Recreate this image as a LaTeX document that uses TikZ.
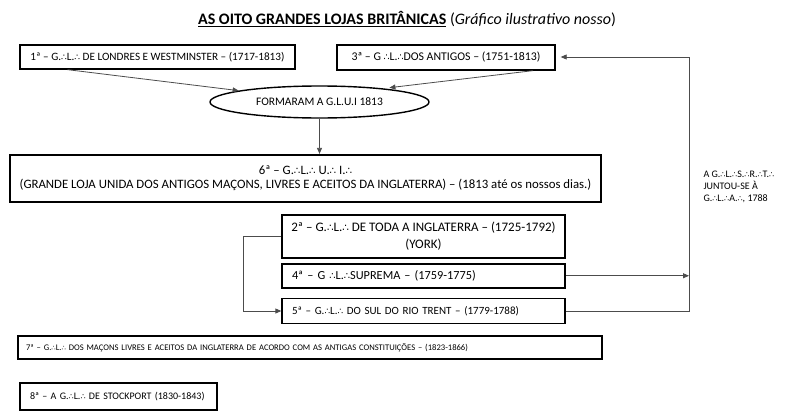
\documentclass[tikz,border=0pt]{standalone}
\usepackage{fontspec}
\setmainfont{Carlito}
\newfontfamily\symfont[Scale=0.8]{DejaVu Sans}
\usepackage{tikz}
\usetikzlibrary{shapes.geometric, arrows.meta, positioning, calc}

\newcommand{\thf}{{\symfont ∴}}

\begin{document}
\begin{tikzpicture}[
  x=1pt, y=-1pt,
  lodge/.style={
    rectangle, draw=black, line width=1.3pt,
    inner sep=0pt, align=center,
    font=\fontsize{11.8}{16}\selectfont
  },
  lodgel/.style={
    lodge, align=left, inner xsep=10pt
  },
  heavy/.style={line width=2.2pt},
  merge/.style={
    ellipse, draw=black, line width=1.4pt,
    minimum width=219pt, minimum height=32pt,
    inner sep=0pt, font=\fontsize{11.5}{13}\selectfont
  },
  arr/.style={-{Triangle[length=6pt,width=5pt]}, line width=0.8pt, black!70},
  note/.style={align=left, anchor=west, font=\fontsize{10}{12}\selectfont}
]
\useasboundingbox (0,0) rectangle (800,420);

%% Title
\node (title) at (407,19) {\fontsize{16}{18}\selectfont
  \underline{\textbf{AS OITO GRANDES LOJAS BRITÂNICAS}} (\textit{Gráfico ilustrativo nosso})};

%% Top row
\node[lodge, minimum width=275pt, minimum height=24pt,
  font=\fontsize{11.2}{13}\selectfont] (b1) at (157.5,57)
  {1ª – G.\thf L.\thf\ DE LONDRES E WESTMINSTER – (1717-1813)};
\node[lodge, minimum width=218pt, minimum height=25pt] (b3) at (446,57.5)
  {3ª – G \thf L.\thf DOS ANTIGOS – (1751-1813)};

%% Union
\node[merge] (ell) at (319.5,102) {FORMARAM A G.L.U.I 1813};
\node[lodge, heavy, minimum width=591pt, minimum height=47pt,
  font=\fontsize{12.8}{14}\selectfont] (b6) at (305.5,178.5)
  {6ª – G.\thf L.\thf\ U.\thf\ I.\thf\\
  (GRANDE LOJA UNIDA DOS ANTIGOS MAÇONS, LIVRES E ACEITOS DA INGLATERRA) – (1813 até os nossos dias.)};

%% Middle stack
\node[lodge, minimum width=283pt, minimum height=43pt,
  font=\fontsize{13}{17}\selectfont] (b2) at (423.5,236.5)
  {2ª – G.\thf L.\thf\ DE TODA A INGLATERRA – (1725-1792)\\(YORK)};
\node[lodgel, heavy, text width=263pt, minimum height=24pt, below=4pt of b2,
  font=\fontsize{12.3}{14}\selectfont] (b4)
  {4ª – G \thf L.\thf SUPREMA – (1759-1775)};
\node[lodgel, text width=263pt, minimum height=25pt, below=9pt of b4,
  font=\fontsize{11}{13}\selectfont] (b5)
  {5ª – G.\thf L.\thf\ DO SUL DO RIO TRENT – (1779-1788)};

%% Bottom rows
\node[lodgel, heavy, inner xsep=8pt, text width=568pt, minimum height=23pt,
  font=\fontsize{8.6}{10}\selectfont] (b7) at (310,347.5)
  {7ª – G.\thf L.\thf\ DOS MAÇONS LIVRES E ACEITOS DA INGLATERRA DE ACORDO COM AS ANTIGAS CONSTITUIÇÕES – (1823-1866)};
\node[lodgel, heavy, text width=177pt, minimum height=27pt,
  font=\fontsize{10}{11}\selectfont] (b8) at (118.5,396.5)
  {8ª – A G.\thf L.\thf\ DE STOCKPORT (1830-1843)};

%% Side note
\node[note] (srt) at (700,187)
  {A G.\thf L.\thf S.\thf R.\thf T.\thf\\JUNTOU-SE À\\G.\thf L.\thf A.\thf, 1788};

\coordinate (rtop) at (689,57);

%% Connectors
\draw[arr] ([xshift=-90pt]b1.south) -- (ell.172);
\draw[arr, shorten >=6pt] ([xshift=87pt]b3.south) -- (ell.12);
\draw[arr] (ell.south) -- (ell.south |- b6.north);
\draw[arr] (b2.west) -- ++(-38pt,0) |- (b5.west);
\draw[arr] (b4.east) -- (b4.east -| rtop);
\draw[arr, shorten >=5pt] (b5.east) -| (rtop) -- (rtop -| b3.east);

\end{tikzpicture}
\end{document}
